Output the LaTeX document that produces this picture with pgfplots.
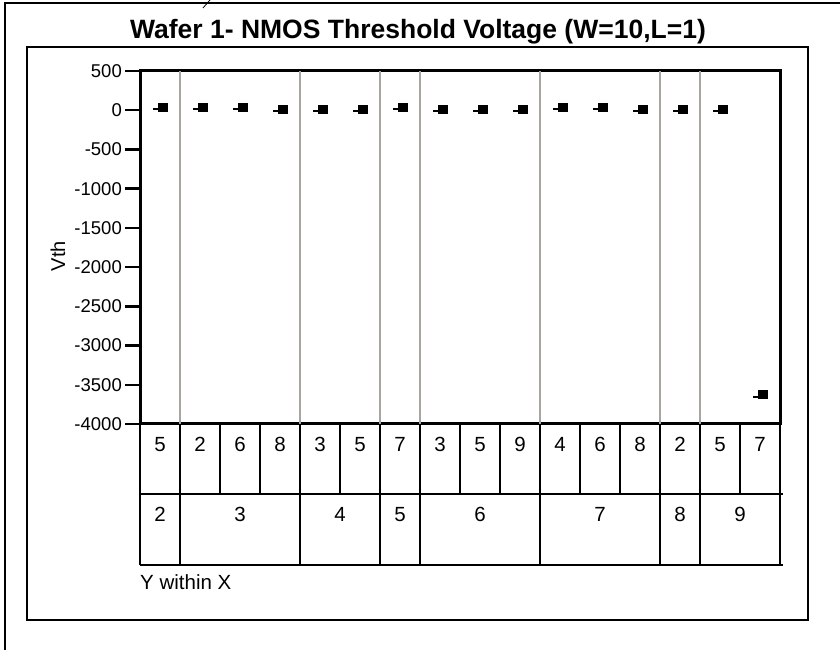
\documentclass[border=0pt]{standalone}
\usepackage{fontspec}
\setmainfont{Liberation Sans}
\usepackage{pgfplots}
\pgfplotsset{compat=1.18}
\definecolor{sepgray}{RGB}{168,164,160}

% JMP style point: filled square with a short dash to its left
\pgfdeclareplotmark{jmpsq}{%
  \pgfpathrectangle{\pgfpoint{-2pt}{-4.5pt}}{\pgfpoint{10pt}{9pt}}%
  \pgfusepathqfill
  \pgfsetlinewidth{1.6pt}%
  \pgfpathmoveto{\pgfpoint{-7pt}{-2pt}}%
  \pgfpathlineto{\pgfpoint{-2pt}{-2pt}}%
  \pgfusepathqstroke
}

\begin{document}
\begin{tikzpicture}[x=1pt,y=1pt]
\useasboundingbox (0,0) rectangle (840,650);
% page frame
\draw[line width=2pt] (5,0) -- (5,647) -- (840,647);
\draw[line width=0.8pt] (210,650) -- (203,642);
\draw[line width=2.5pt] (27,30) rectangle (808,603);
\node[font=\bfseries\fontsize{26.5}{30}\selectfont] at (418,618)
  {Wafer 1- NMOS Threshold Voltage (W=10,L=1)};

\begin{axis}[
  at={(140pt,226pt)}, anchor=south west,
  width=640pt, height=353pt, scale only axis,
  xmin=0.5, xmax=16.5, ymin=-4000, ymax=500,
  xtick=\empty,
  extra x ticks={1.5,4.5,6.5,7.5,10.5,13.5,14.5},
  extra x tick labels={},
  extra x tick style={grid=major, major tick length=0pt,
    major grid style={color=sepgray, line width=1.5pt}},
  ytick={-4000,-3500,...,500},
  yticklabels={-4000,-3500,-3000,-2500,-2000,-1500,-1000,-500,0,500},
  ytick pos=left,
  tick align=outside,
  major tick length=15pt,
  tick style={black, line width=2.5pt},
  yticklabel style={font=\fontsize{18.5}{21}\selectfont, inner sep=0pt, xshift=-3pt},
  axis line style={line width=3pt},
  clip=false,
]
\addplot[only marks, mark=jmpsq, black] coordinates {
  (1,40) (2,40) (3,40) (4,12) (5,12) (6,12) (7,40) (8,12)
  (9,12) (10,12) (11,40) (12,40) (13,12) (14,12) (15,12) (16,-3630)
};
\end{axis}

% variability chart table: Y within X
\begin{scope}[line width=2pt]
  \foreach \k in {0,...,16} \draw (140+40*\k,226) -- (140+40*\k,156);
  \foreach \xx in {140,180,300,380,420,540,660,700,780} \draw (\xx,156) -- (\xx,85);
  \draw (140,156) -- (783,156);
  \draw (140,85) -- (783,85);
\end{scope}
\begin{scope}[font=\fontsize{20.5}{24}\selectfont]
  \foreach \lab [count=\i from 0] in {5,2,6,8,3,5,7,3,5,9,4,6,8,2,5,7}
    \node at (160+40*\i,205.5) {\lab};
  \foreach \xx/\lab in {160/2,240/3,340/4,400/5,480/6,600/7,680/8,740/9}
    \node at (\xx,135.5) {\lab};
  \node[anchor=base west, inner sep=0pt] at (140,60) {Y within X};
\end{scope}
\node[rotate=90, font=\fontsize{20}{24}\selectfont] at (58,394) {Vth};
\end{tikzpicture}
\end{document}
